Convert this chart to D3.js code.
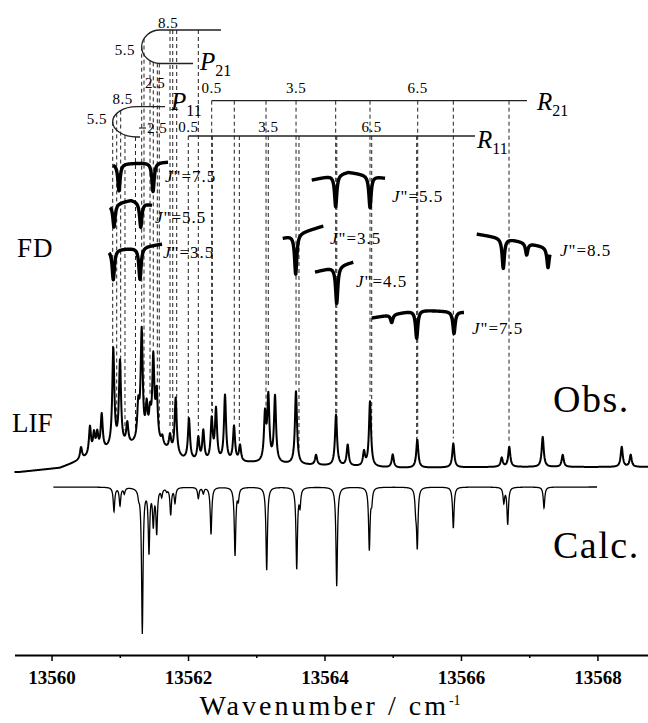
<!DOCTYPE html>
<html>
<head>
<meta charset="utf-8">
<script src="https://cdn.jsdelivr.net/npm/d3@7"></script>
<style>
  body { margin: 0; background: #fff; }
  text { font-family: "Liberation Serif", "Times New Roman", serif; fill: #000; }
</style>
</head>
<body>
<svg id="chart" width="648" height="723"></svg>
<script>
// axis
var axisMajor = [13560, 13562, 13564, 13566, 13568];
var axisMinor = [13561, 13563, 13565, 13567];

// LIF (observed) : slow background + line list [wavenumber, height]
var lifBaseline = [[13559.457, 0], [13559.538, 0], [13560.124, 4], [13560.563, 15], [13560.857, 22],
    [13561.296, 27], [13561.589, 25], [13561.926, 12], [13562.176, 9], [13562.908, 9],
    [13563.641, 7], [13565.107, 4], [13566.572, 5], [13568.741, 5]];
var lifPeaks = [[13560.432, 12], [13560.563, 28], [13560.622, 19], [13560.670, 18], [13560.735, 36],
    [13560.905, 98], [13561.003, 84], [13561.110, 21], [13561.271, 34], [13561.321, 110],
    [13561.394, 33], [13561.443, 25], [13561.491, 83], [13561.541, 48], [13561.623, 8],
    [13561.736, 15], [13561.819, 56], [13562.014, 41], [13562.151, 23], [13562.224, 30],
    [13562.347, 41], [13562.410, 51], [13562.542, 66], [13562.674, 35], [13562.762, 16],
    [13563.128, 46], [13563.177, 64], [13563.275, 66], [13563.582, 73], [13563.876, 10],
    [13564.169, 51], [13564.340, 21], [13564.579, 14], [13564.667, 65], [13565.000, 13],
    [13565.360, 28], [13565.888, 24], [13566.597, 9], [13566.708, 20], [13567.198, 30],
    [13567.491, 12], [13568.356, 20], [13568.487, 12]];

// calculated spectrum (drawn downwards) [wavenumber, depth]
var calcRange = [13560.026, 13567.994];
var calcPeaks = [[13560.915, 24], [13561.003, 18], [13561.066, 6], [13561.277, 6], [13561.330, 145],
    [13561.428, 63], [13561.491, 35], [13561.541, 44], [13561.614, 8], [13561.688, 3],
    [13561.746, 27], [13561.809, 15], [13562.151, 11], [13562.224, 6], [13562.337, 47],
    [13562.689, 68], [13562.737, 11], [13563.153, 83], [13563.593, 81], [13563.641, 17],
    [13564.179, 99], [13564.657, 62], [13564.692, 13], [13565.337, 18], [13565.360, 58],
    [13565.888, 41], [13566.628, 15], [13566.685, 37], [13567.217, 21]];

// fluorescence-dip traces: scan range, offset level(s), dips [wavenumber, depth]
var fdTraces = [
    {j: "7.5", from: 13560.901, to: 13561.707, level: [176, 178], dips: [[13560.988, 27], [13561.487, 29]]},
    {j: "5.5", from: 13560.857, to: 13561.472, level: [135, 140, 135], dips: [[13560.915, 23], [13561.307, 25]]},
    {j: "3.5", from: 13560.842, to: 13561.619, level: [90, 92, 96], dips: [[13560.905, 30], [13561.296, 32]]},
    {j: "5.5", from: 13563.813, to: 13564.887, level: [160, 168, 162], dips: [[13564.164, 32], [13564.667, 32]]},
    {j: "3.5", from: 13563.388, to: 13563.983, level: [102, 114], dips: [[13563.578, 40]]},
    {j: "4.5", from: 13563.861, to: 13564.422, level: [68, 78], dips: [[13564.179, 37]]},
    {j: "7.5", from: 13564.692, to: 13566.044, level: [22, 30, 28], dips: [[13564.985, 8], [13565.351, 28], [13565.898, 22]]},
    {j: "8.5", from: 13566.231, to: 13567.305, level: [106, 100, 92], dips: [[13566.620, 30], [13566.963, 12], [13567.276, 20]]}
];
var fdLabelPos = [[165, 182], [155, 223], [163, 258], [392, 202], [330, 244], [356, 287], [472, 334], [560, 256]];

// assignments [J, wavenumber]
var r21Lines = [[0.5, 13562.347], [1.5, 13562.678], [2.5, 13563.143], [3.5, 13563.583], [4.5, 13564.164],
    [5.5, 13564.667], [6.5, 13565.366], [7.5, 13565.888], [8.5, 13566.704]];
var r11Lines = [[0.5, 13562.004], [1.5, 13562.356], [2.5, 13562.752], [3.5, 13563.176], [4.5, 13563.626],
    [5.5, 13564.180], [6.5, 13564.692], [7.5, 13565.351]];
var p11Lines = [[3.5, 13561.230], [4.5, 13561.076], [5.5, 13560.896], [7.5, 13560.955], [8.5, 13561.013]];
var p21Lines = [[1.5, 13561.579], [2.5, 13561.550], [3.5, 13561.491], [4.5, 13561.443], [5.5, 13561.321],
    [6.5, 13561.355], [7.5, 13561.736], [8.5, 13561.776], [9.5, 13561.834], [10.5, 13562.151]];
var rLabelJ = [0.5, 3.5, 6.5];

var svg = d3.select("#chart");

var x = d3.scaleLinear().domain([13559.457, 13568.741]).range([14.5, 648]);
var lifY = d3.scaleLinear().domain([0, 120]).range([472, 352]);
var calcY = d3.scaleLinear().domain([0, 150]).range([487, 637]);
var fdY = d3.scaleLinear().domain([0, 200]).range([340, 140]);

var baseAt = d3.scaleLinear().domain(lifBaseline.map(d => d[0])).range(lifBaseline.map(d => d[1])).clamp(true);

function profile(peaks, width, nu) {
    var s = 0;
    for (var p of peaks) {
        var t = (nu - p[0]) / width;
        s += p[1] / (1 + t * t);
    }
    return s;
}

function grid(from, to, peaks) {
    var centers = peaks.map(p => p[0]).filter(c => c > from && c < to);
    return d3.range(from, to, 0.004).concat(centers, [to]).sort(d3.ascending);
}

function lifAt(nu) { return baseAt(nu) + profile(lifPeaks, 0.018, nu); }

var line = d3.line();

// ---- assignment brackets and dashed lines ----
var guides = svg.append("g").attr("stroke", "#222").attr("fill", "none");

function dropLine(nu, yTop) {
    guides.append("line")
        .attr("x1", x(nu)).attr("x2", x(nu))
        .attr("y1", yTop).attr("y2", lifY(lifAt(nu)) - 5)
        .attr("stroke-width", 1)
        .attr("stroke-dasharray", "4,3");
}

function rBranch(lines, yLine, xEnd, labelY) {
    guides.append("line")
        .attr("x1", x(lines[0][1])).attr("x2", xEnd)
        .attr("y1", yLine).attr("y2", yLine)
        .attr("stroke-width", 1.3);
    lines.forEach(d => dropLine(d[1], yLine));
    lines.filter(d => rLabelJ.indexOf(d[0]) >= 0).forEach(d => {
        svg.append("text").attr("x", x(d[1])).attr("y", labelY)
            .attr("text-anchor", "middle").style("font-size", "15px").style("letter-spacing", "0.5px")
            .text(d[0].toFixed(1));
    });
}

rBranch(r21Lines, 100.7, 527, 93);
rBranch(r11Lines, 136, 475, 132);

// P branches fold back at the band head (J" = 5.5), drawn as a loop
function pBranch(lines, headJ, rx, topY, bottomY, topEnd, bottomEnd) {
    var head = lines.find(d => d[0] === headJ);
    var hx = x(head[1]);
    var cx = hx + rx, cy = (topY + bottomY) / 2, ry = (bottomY - topY) / 2;
    guides.append("path")
        .attr("stroke-width", 1.3)
        .attr("d", "M" + topEnd + "," + topY + "L" + cx + "," + topY +
            "A" + rx + "," + ry + " 0 0 0 " + hx + "," + cy +
            "A" + rx + "," + ry + " 0 0 0 " + cx + "," + bottomY +
            "L" + bottomEnd + "," + bottomY);
    lines.forEach(d => {
        var px = x(d[1]);
        var k = px >= cx ? 0 : Math.sqrt(Math.max(0, 1 - Math.pow((px - cx) / rx, 2)));
        var yTop;
        if (d[0] === headJ) yTop = cy;
        else if (d[0] > headJ) yTop = px >= cx ? topY : cy - ry * k;
        else yTop = px >= cx ? bottomY : cy + ry * k;
        dropLine(d[1], yTop);
    });
}

pBranch(p21Lines, 5.5, 18.3, 30, 63.5, 221, 193);
pBranch(p11Lines, 5.5, 24, 106.7, 137, 165, 140);
guides.append("line").attr("x1", 139).attr("x2", 146).attr("y1", 128).attr("y2", 128).attr("stroke-width", 1.2);

var pLabels = [["8.5", 168, 28, "middle"], ["5.5", 135, 55, "end"], ["2.5", 155, 88, "middle"],
    ["8.5", 122.5, 103.5, "middle"], ["5.5", 107, 124, "end"], ["2.5", 147, 133, "start"]];
pLabels.forEach(d => {
    svg.append("text").attr("x", d[1]).attr("y", d[2]).attr("text-anchor", d[3])
        .style("font-size", "15px").style("letter-spacing", "0.5px").text(d[0]);
});

function branchName(letter, sub, px, py) {
    var t = svg.append("text").attr("x", px).attr("y", py).style("font-size", "25px");
    t.append("tspan").style("font-style", "italic").text(letter);
    t.append("tspan").attr("dy", 6).style("font-size", "16px").text(sub);
}
branchName("P", "21", 200, 70);
branchName("P", "11", 171, 110);
branchName("R", "21", 537, 110);
branchName("R", "11", 477, 148);

// ---- FD traces ----
fdTraces.forEach((t, i) => {
    var n = t.level.length;
    var lvl = d3.scaleLinear()
        .domain(t.level.map((_, k) => t.from + k * (t.to - t.from) / (n - 1)))
        .range(t.level);
    var pts = grid(t.from, t.to, t.dips).map(nu => [x(nu), fdY(lvl(nu) - profile(t.dips, 0.02, nu))]);
    svg.append("path").attr("d", line(pts))
        .attr("fill", "none").attr("stroke", "#000").attr("stroke-width", 3.4)
        .attr("stroke-linejoin", "round");
    var lab = svg.append("text").attr("x", fdLabelPos[i][0]).attr("y", fdLabelPos[i][1])
        .style("font-size", "17px").style("letter-spacing", "1px");
    lab.append("tspan").style("font-style", "italic").text("J");
    lab.append("tspan").text("\"=" + t.j);
});

// ---- LIF spectrum ----
var lifPts = grid(x.domain()[0], x.domain()[1], lifPeaks).map(nu => [x(nu), lifY(lifAt(nu))]);
svg.append("path").attr("d", line(lifPts))
    .attr("fill", "none").attr("stroke", "#000").attr("stroke-width", 2)
    .attr("stroke-linejoin", "round");

// ---- calculated spectrum ----
var calcPts = grid(calcRange[0], calcRange[1], calcPeaks).map(nu => [x(nu), calcY(profile(calcPeaks, 0.013, nu))]);
svg.append("path").attr("d", line(calcPts))
    .attr("fill", "none").attr("stroke", "#000").attr("stroke-width", 1.3);

// ---- side labels ----
var sideLabels = [["FD", 17, 257, 27, 1], ["LIF", 12, 432, 27, 0], ["Obs.", 553, 412, 38, 1.5], ["Calc.", 553, 558, 38, 1.5]];
sideLabels.forEach(d => {
    svg.append("text").attr("x", d[1]).attr("y", d[2])
        .style("font-size", d[3] + "px").style("letter-spacing", d[4] + "px").text(d[0]);
});

// ---- axis ----
var axisG = svg.append("g").attr("transform", "translate(0,655)");
axisG.call(d3.axisBottom(x).tickValues(axisMajor).tickSize(6).tickSizeOuter(0).tickFormat(d3.format("d")));
axisG.select(".domain").attr("stroke-width", 2);
axisG.selectAll(".tick line").attr("stroke-width", 1.5);
axisG.selectAll(".tick text")
    .attr("y", 29).attr("dy", 0)
    .style("font-family", "'Liberation Serif', serif")
    .style("font-weight", "bold").style("font-size", "19px");
var minorG = svg.append("g").attr("transform", "translate(0,655)");
minorG.call(d3.axisBottom(x).tickValues(axisMinor).tickSize(3).tickFormat(""));
minorG.select(".domain").remove();
minorG.selectAll(".tick line").attr("stroke-width", 1.5);

var title = svg.append("text").attr("x", 330).attr("y", 715).attr("text-anchor", "middle")
    .style("font-size", "28px").style("letter-spacing", "3px");
title.append("tspan").text("Wavenumber / cm");
title.append("tspan").attr("dy", -10).style("font-size", "14px").style("letter-spacing", "0px").text("-1");
</script>
</body>
</html>
